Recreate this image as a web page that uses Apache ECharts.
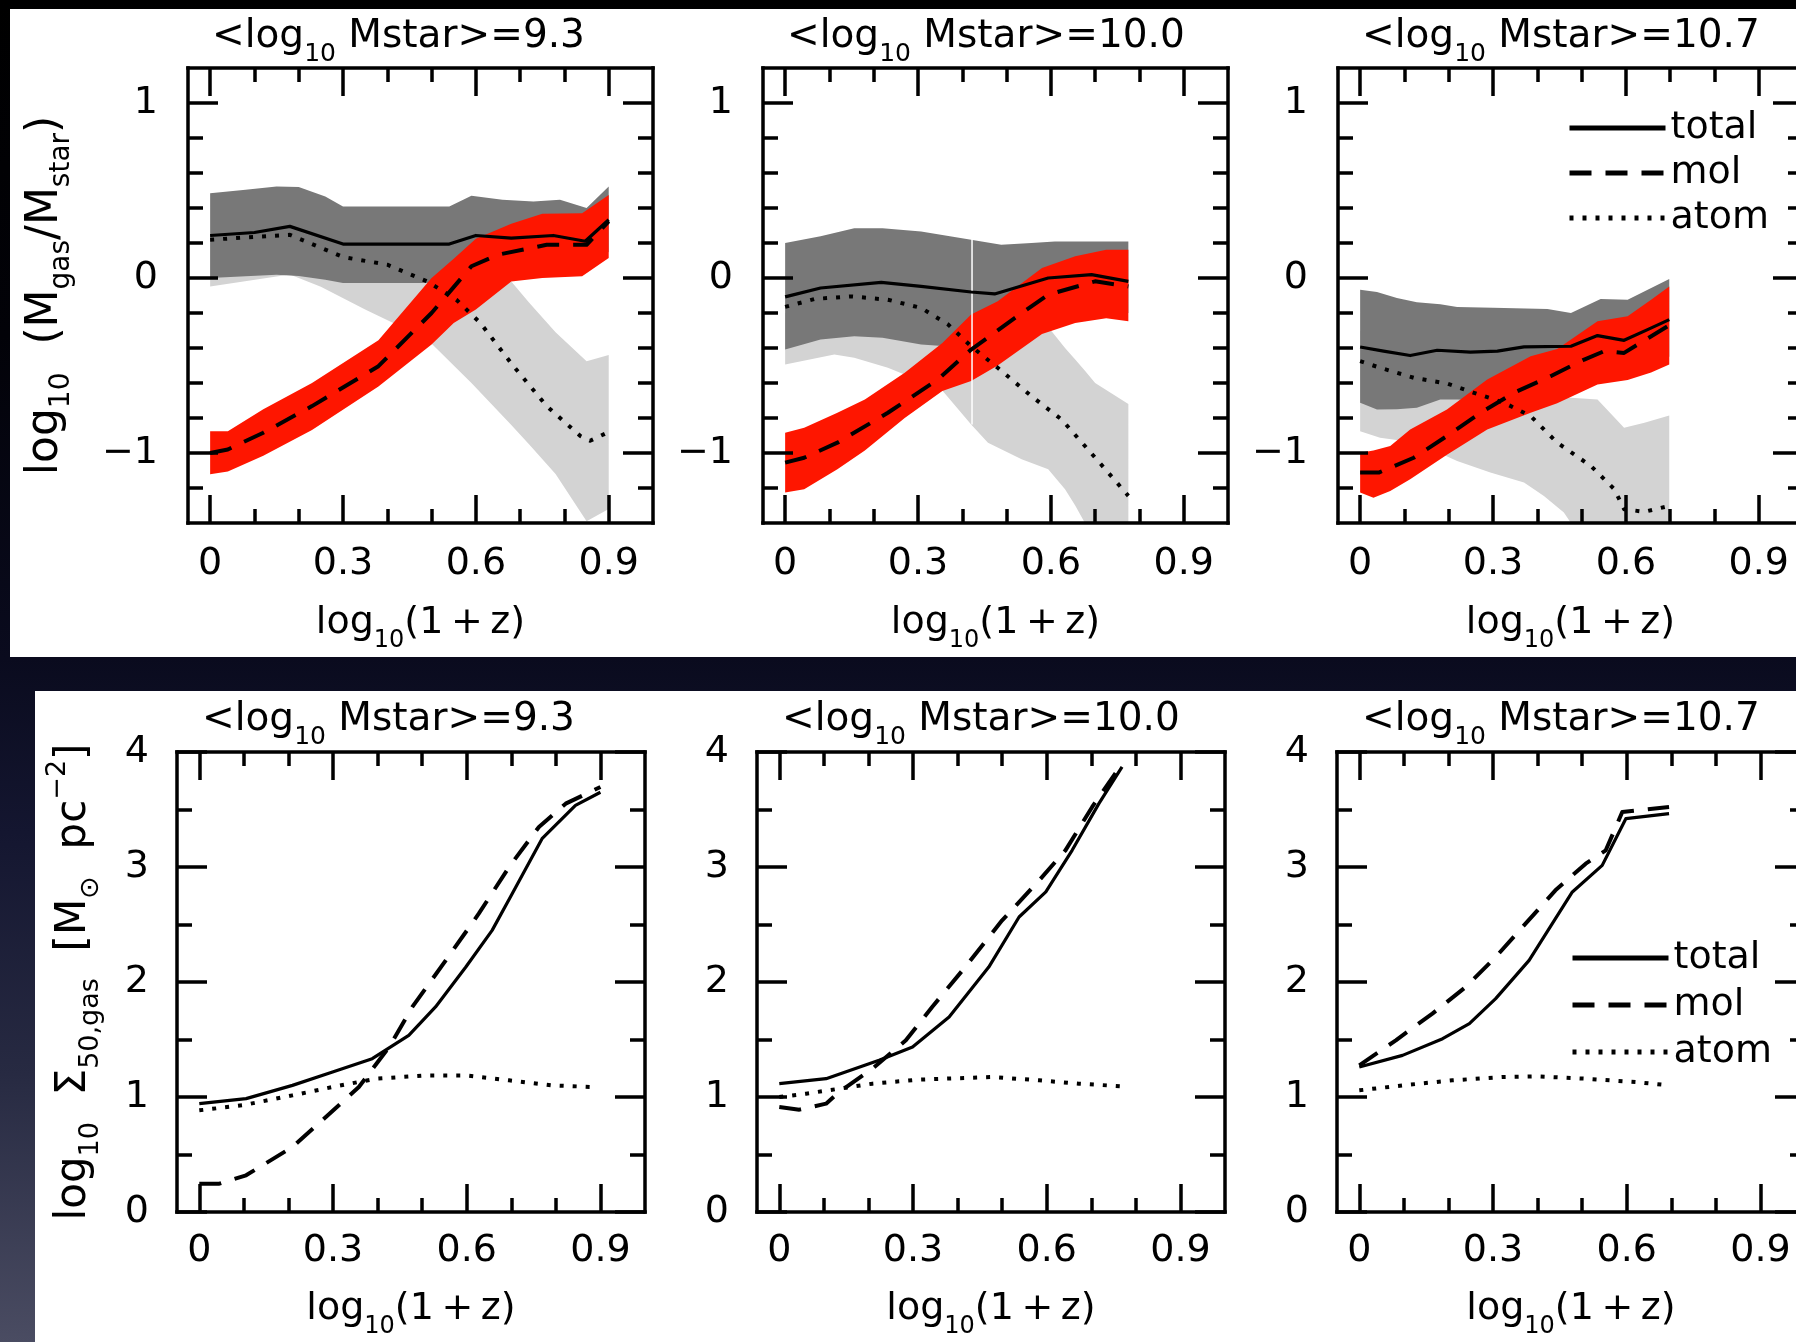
<!DOCTYPE html>
<html>
<head>
<meta charset="utf-8">
<title>Gas fractions and surface densities vs redshift</title>
<script src="https://cdn.jsdelivr.net/npm/echarts@6/dist/echarts.min.js"></script>
<style>
  html, body { margin: 0; padding: 0; }
  body {
    width: 1796px; height: 1342px; overflow: hidden; position: relative;
    background: linear-gradient(to bottom, #000 0%, #020208 25%, #0a0b1e 49%, #141630 62%, #272a42 80%, #4a4c62 100%);
  }
  .sheet { position: absolute; background: #fff; }
  #sheetTop { left: 10px; top: 9px; width: 1786px; height: 648px; }
  #sheetBottom { left: 35px; top: 691px; width: 1761px; height: 651px; }
  #chart { position: absolute; left: 0; top: 0; width: 1796px; height: 1342px; }
</style>
</head>
<body>
<div class="sheet" id="sheetTop"></div>
<div class="sheet" id="sheetBottom"></div>
<div id="chart"></div>
<script>
// ---- axes ----
const zTicks = [0, 0.3, 0.6, 0.9];
const zMinorTicks = [0.1, 0.2, 0.4, 0.5, 0.7, 0.8];
const fracTicks = [-1, 0, 1];
const fracMinorTicks = [-1.2, -0.8, -0.6, -0.4, -0.2, 0.2, 0.4, 0.6, 0.8];
const sigmaTicks = [0, 1, 2, 3, 4];
const sigmaMinorTicks = [0.5, 1.5, 2.5, 3.5];
const massBins = ['9.3', '10.0', '10.7'];
const legendNames = ['total', 'mol', 'atom'];

// ---- log10(Mgas/Mstar) medians, one list per stellar-mass bin: [log10(1+z), value] ----
const fracTotal = [
  [[0,0.243],[0.1,0.26],[0.18,0.295],[0.3,0.194],[0.54,0.194],[0.6,0.243],[0.68,0.228],[0.775,0.243],[0.847,0.21],[0.9,0.333]],
  [[0,-0.108],[0.08,-0.057],[0.217,-0.025],[0.307,-0.048],[0.42,-0.08],[0.473,-0.091],[0.594,0.0],[0.692,0.019],[0.775,-0.019]],
  [[0,-0.394],[0.053,-0.418],[0.113,-0.443],[0.174,-0.413],[0.249,-0.424],[0.31,-0.418],[0.37,-0.394],[0.476,-0.39],[0.536,-0.329],[0.596,-0.356],[0.649,-0.295],[0.698,-0.238]]
];
const fracMol = [
  [[0,-1.0],[0.04,-0.98],[0.12,-0.884],[0.23,-0.732],[0.38,-0.504],[0.5,-0.2],[0.59,0.067],[0.65,0.133],[0.76,0.19],[0.85,0.19],[0.9,0.323]],
  [[0,-1.055],[0.043,-1.027],[0.118,-0.941],[0.232,-0.77],[0.345,-0.58],[0.42,-0.409],[0.519,-0.228],[0.594,-0.095],[0.7,-0.019],[0.775,-0.048]],
  [[0,-1.112],[0.042,-1.112],[0.121,-1.027],[0.196,-0.903],[0.272,-0.77],[0.347,-0.656],[0.43,-0.561],[0.506,-0.466],[0.551,-0.418],[0.596,-0.428],[0.698,-0.27]]
];
const fracAtom = [
  [[0,0.219],[0.18,0.247],[0.3,0.12],[0.4,0.076],[0.49,-0.019],[0.556,-0.124],[0.61,-0.257],[0.685,-0.504],[0.76,-0.732],[0.836,-0.903],[0.858,-0.93],[0.9,-0.88]],
  [[0,-0.165],[0.066,-0.12],[0.149,-0.105],[0.232,-0.124],[0.307,-0.171],[0.368,-0.266],[0.42,-0.39],[0.48,-0.513],[0.556,-0.675],[0.624,-0.808],[0.67,-0.94],[0.723,-1.093],[0.775,-1.245]],
  [[0,-0.475],[0.045,-0.513],[0.121,-0.57],[0.196,-0.603],[0.257,-0.656],[0.325,-0.713],[0.385,-0.789],[0.445,-0.941],[0.521,-1.074],[0.574,-1.207],[0.596,-1.321],[0.642,-1.336],[0.698,-1.302]]
];

// ---- scatter ranges: [log10(1+z), lower, upper] ----
const fracTotalRange = [
  [[0,0.0,0.485],[0.08,0.01,0.504],[0.15,0.019,0.523],[0.2,0.012,0.52],[0.26,-0.01,0.466],[0.3,-0.029,0.409],[0.54,-0.029,0.409],[0.59,-0.03,0.47],[0.66,-0.01,0.447],[0.73,0.0,0.437],[0.79,0.02,0.447],[0.85,0.03,0.4],[0.9,0.15,0.523]],
  [[0,-0.409,0.2],[0.08,-0.352,0.238],[0.156,-0.333,0.285],[0.22,-0.342,0.285],[0.307,-0.38,0.266],[0.42,-0.4,0.219],[0.488,-0.4,0.19],[0.556,-0.33,0.2],[0.609,-0.26,0.209],[0.7,-0.2,0.209],[0.775,-0.2,0.209]],
  [[0,-0.713,-0.067],[0.038,-0.751,-0.08],[0.083,-0.75,-0.114],[0.128,-0.741,-0.139],[0.181,-0.694,-0.15],[0.219,-0.694,-0.165],[0.3,-0.7,-0.17],[0.423,-0.68,-0.177],[0.476,-0.62,-0.2],[0.543,-0.58,-0.12],[0.604,-0.55,-0.124],[0.698,-0.45,-0.006]]
];
const fracMolRange = [
  [[0,-1.122,-0.875],[0.04,-1.105,-0.875],[0.12,-1.015,-0.75],[0.23,-0.868,-0.6],[0.38,-0.62,-0.355],[0.5,-0.38,0.0],[0.55,-0.257,0.11],[0.6,-0.18,0.225],[0.68,-0.02,0.31],[0.75,0.0,0.367],[0.84,0.01,0.37],[0.9,0.114,0.475]],
  [[0,-1.226,-0.884],[0.043,-1.207,-0.856],[0.118,-1.093,-0.77],[0.18,-0.985,-0.694],[0.27,-0.8,-0.542],[0.355,-0.645,-0.371],[0.42,-0.589,-0.209],[0.48,-0.5,-0.133],[0.58,-0.32,0.057],[0.655,-0.257,0.124],[0.725,-0.23,0.162],[0.775,-0.247,0.162]],
  [[0,-1.226,-0.998],[0.03,-1.255,-0.985],[0.068,-1.217,-0.96],[0.113,-1.15,-0.865],[0.196,-1.01,-0.751],[0.287,-0.865,-0.58],[0.385,-0.77,-0.447],[0.445,-0.715,-0.405],[0.536,-0.608,-0.247],[0.604,-0.583,-0.219],[0.657,-0.54,-0.124],[0.698,-0.494,-0.048]]
];
const fracAtomRange = [
  [[0,-0.048,0.2],[0.18,0.02,0.25],[0.25,-0.05,0.2],[0.35,-0.18,0.1],[0.49,-0.35,0.0],[0.59,-0.6,-0.02],[0.68,-0.84,-0.02],[0.72,-0.95,-0.14],[0.78,-1.12,-0.31],[0.85,-1.39,-0.475],[0.9,-1.32,-0.44]],
  [[0,-0.494,-0.2],[0.111,-0.437,-0.2],[0.156,-0.456,-0.2],[0.232,-0.513,-0.25],[0.353,-0.637,-0.3],[0.42,-0.837,-0.3],[0.458,-0.941,-0.3],[0.534,-1.036,-0.3],[0.594,-1.093,-0.28],[0.632,-1.207,-0.4],[0.655,-1.3,-0.466],[0.677,-1.4,-0.53],[0.7,-1.4,-0.6],[0.775,-1.4,-0.72]],
  [[0,-0.875,-0.3],[0.045,-0.913,-0.35],[0.128,-0.941,-0.4],[0.219,-1.046,-0.5],[0.294,-1.112,-0.55],[0.37,-1.169,-0.6],[0.415,-1.245,-0.65],[0.46,-1.34,-0.68],[0.476,-1.4,-0.684],[0.536,-1.4,-0.694],[0.596,-1.4,-0.856],[0.642,-1.4,-0.827],[0.698,-1.4,-0.785]]
];
// thin white divider through the shaded ranges of the middle bin
const fracDivider = [[0.422, 0.228], [0.422, -0.837]];

// ---- log10 Sigma_50,gas medians ----
const sigmaTotal = [
  [[0,0.942],[0.105,0.986],[0.209,1.101],[0.299,1.217],[0.388,1.333],[0.47,1.536],[0.53,1.783],[0.598,2.13],[0.657,2.449],[0.702,2.768],[0.769,3.246],[0.844,3.536],[0.9,3.65]],
  [[0,1.116],[0.105,1.159],[0.224,1.319],[0.299,1.435],[0.381,1.696],[0.47,2.13],[0.538,2.565],[0.598,2.783],[0.657,3.145],[0.717,3.551],[0.769,3.87]],
  [[0,1.261],[0.097,1.362],[0.187,1.507],[0.247,1.638],[0.306,1.855],[0.381,2.188],[0.433,2.507],[0.478,2.783],[0.545,3.014],[0.598,3.42],[0.695,3.464]]
];
const sigmaMol = [
  [[0,0.246],[0.045,0.246],[0.105,0.319],[0.209,0.565],[0.284,0.826],[0.358,1.087],[0.426,1.435],[0.478,1.783],[0.553,2.188],[0.627,2.594],[0.695,3.0],[0.762,3.348],[0.822,3.551],[0.9,3.696]],
  [[0,0.913],[0.045,0.89],[0.105,0.942],[0.134,1.043],[0.209,1.246],[0.284,1.493],[0.343,1.783],[0.411,2.101],[0.5,2.536],[0.583,2.884],[0.642,3.145],[0.702,3.522],[0.769,3.899]],
  [[0,1.275],[0.082,1.493],[0.164,1.725],[0.239,1.957],[0.306,2.217],[0.373,2.507],[0.44,2.797],[0.508,3.029],[0.553,3.145],[0.59,3.478],[0.695,3.522]]
];
const sigmaAtom = [
  [[0,0.884],[0.097,0.928],[0.209,1.014],[0.299,1.087],[0.396,1.159],[0.508,1.188],[0.598,1.188],[0.695,1.145],[0.792,1.101],[0.881,1.087]],
  [[0,1.0],[0.06,1.029],[0.134,1.072],[0.209,1.116],[0.314,1.151],[0.433,1.168],[0.478,1.174],[0.583,1.145],[0.672,1.116],[0.769,1.093]],
  [[0,1.058],[0.097,1.101],[0.209,1.145],[0.321,1.174],[0.396,1.18],[0.508,1.159],[0.62,1.13],[0.695,1.101]]
];

// ---- styling ----
const FONT = 'DejaVu Sans';
const INK = '#000';
const FILL_TOTAL = '#787878';
const FILL_ATOM = '#d3d3d3';
const FILL_MOL = '#fe1600';
const LINE = {
  total: { type: 'solid', width: 3.2 },
  mol:   { type: [22, 14], width: 4 },
  atom:  { type: [4, 9], width: 4 }
};
// rich text: t = body, s = subscript, p = superscript
function richSet(size, subSize) {
  const base = { fontFamily: FONT, fontWeight: 'normal', color: INK };
  return {
    t: Object.assign({ fontSize: size, lineHeight: 60 }, base),
    s: Object.assign({ fontSize: subSize, lineHeight: 22, verticalAlign: 'bottom' }, base),
    p: Object.assign({ fontSize: subSize, lineHeight: 32, verticalAlign: 'top' }, base)
  };
}
const RICH_X = richSet(38, 24);
const RICH_FRAC = richSet(44, 28);
const RICH_SIGMA = richSet(42, 27);
const RICH_TITLE = richSet(39, 25);

const X_NAME = '{t|log}{s|10}{t|(1\u2009+\u2009z)}';
const FRAC_NAME = '{t|log}{s|10}{t|  (M}{s|gas}{t|/M}{s|star}{t|)}';
const SIGMA_NAME = '{t|log}{s|10}{t|  \u03a3}{s|50,gas}{t|  [M}{s|\u2299}{t|  pc}{p|\u22122}{t|]}';

const fmtZ = v => (v === 0 ? '0' : v.toFixed(1));
const fmtSigned = v => (v < 0 ? '\u2212' + Math.abs(v) : String(v));

// panel frames in pixels
const topRow = [0, 1, 2].map(i => ({ left: 188 + 575 * i, top: 68, width: 465, height: 455 }));
const bottomRow = [0, 1, 2].map(i => ({ left: 177 + 580 * i, top: 752, width: 468, height: 460 }));
const grids = topRow.concat(bottomRow).map(r => Object.assign({ show: false, outerBoundsMode: 'none', containLabel: false }, r));

const xAxes = [];
const yAxes = [];
const TICK = { color: INK, width: 3.5 };
const FRAME = { show: true, onZero: false, lineStyle: { color: INK, width: 3.5, cap: 'square' } };
const BARE = { show: false, onZero: false };

function addFrame(g, yMin, yMax, yMajor, yMinor, yName, yRich, o) {
  const xb = { gridIndex: g, type: 'value', min: -0.05, max: 1.0, z: 10, splitLine: { show: false }, axisPointer: { show: false } };
  const yb = { gridIndex: g, type: 'value', min: yMin, max: yMax, z: 10, splitLine: { show: false }, axisPointer: { show: false } };
  const xMaj = { show: true, inside: true, length: 28, customValues: zTicks, lineStyle: TICK };
  const xMin = { show: true, inside: true, length: 14, customValues: zMinorTicks, lineStyle: TICK };
  const yMaj = { show: true, inside: true, length: 30, customValues: yMajor, lineStyle: TICK };
  const yMinT = { show: true, inside: true, length: 15, customValues: yMinor, lineStyle: TICK };
  const label = { fontSize: 38, color: INK, fontFamily: FONT };

  xAxes.push(Object.assign({}, xb, {
    position: 'bottom', axisLine: FRAME, axisTick: xMaj,
    axisLabel: Object.assign({ customValues: zTicks, margin: o.xLabelMargin, formatter: fmtZ }, label),
    name: X_NAME, nameLocation: 'middle', nameGap: o.xNameGap, nameTextStyle: { rich: RICH_X }
  }));
  xAxes.push(Object.assign({}, xb, { position: 'bottom', axisLine: BARE, axisTick: xMin, axisLabel: { show: false } }));
  xAxes.push(Object.assign({}, xb, { position: 'top', axisLine: FRAME, axisTick: xMaj, axisLabel: { show: false } }));
  xAxes.push(Object.assign({}, xb, { position: 'top', axisLine: BARE, axisTick: xMin, axisLabel: { show: false } }));

  yAxes.push(Object.assign({}, yb, {
    position: 'left', axisLine: FRAME, axisTick: yMaj,
    axisLabel: Object.assign({ customValues: yMajor, margin: o.yLabelMargin, formatter: fmtSigned }, label),
    name: yName, nameLocation: 'middle', nameGap: o.yNameGap, nameTextStyle: { rich: yRich }
  }));
  yAxes.push(Object.assign({}, yb, { position: 'left', axisLine: BARE, axisTick: yMinT, axisLabel: { show: false } }));
  yAxes.push(Object.assign({}, yb, { position: 'right', axisLine: FRAME, axisTick: yMaj, axisLabel: { show: false } }));
  yAxes.push(Object.assign({}, yb, { position: 'right', axisLine: BARE, axisTick: yMinT, axisLabel: { show: false } }));
}

for (let i = 0; i < 3; i++) {
  addFrame(i, -1.4, 1.2, fracTicks, fracMinorTicks, i === 0 ? FRAC_NAME : '', RICH_FRAC,
    { xLabelMargin: 22, xNameGap: 70, yLabelMargin: 30, yNameGap: 112 });
}
for (let i = 0; i < 3; i++) {
  addFrame(3 + i, 0, 4, sigmaTicks, sigmaMinorTicks, i === 0 ? SIGMA_NAME : '', RICH_SIGMA,
    { xLabelMargin: 20, xNameGap: 67, yLabelMargin: 28, yNameGap: 73 });
}

// ---- series ----
const series = [];
// shaded range between the lower and upper percentile edges, as one polygon
function addRange(g, rows, color) {
  series.push({
    type: 'custom', name: 'range', xAxisIndex: 4 * g, yAxisIndex: 4 * g,
    data: rows, encode: { x: 0, y: [1, 2] },
    clip: true, silent: true, z: 1, animation: false,
    renderItem: function (params, api) {
      if (params.dataIndex !== 0) return null;
      const upper = rows.map(r => api.coord([r[0], r[2]]));
      const lower = rows.map(r => api.coord([r[0], r[1]])).reverse();
      return {
        type: 'polygon',
        shape: { points: upper.concat(lower) },
        style: { fill: color, stroke: null }
      };
    }
  });
}
function addCurve(g, name, pts) {
  series.push({
    type: 'line', name: name, xAxisIndex: 4 * g, yAxisIndex: 4 * g, data: pts,
    symbol: 'none', z: 4, silent: true, animation: false,
    itemStyle: { color: INK },
    lineStyle: Object.assign({ color: INK, cap: 'butt', join: 'round' }, LINE[name])
  });
}

for (let i = 0; i < 3; i++) {
  addRange(i, fracAtomRange[i], FILL_ATOM);
  addRange(i, fracTotalRange[i], FILL_TOTAL);
  addRange(i, fracMolRange[i], FILL_MOL);
  if (i === 1) {
    series.push({
      type: 'line', name: 'divider', xAxisIndex: 4, yAxisIndex: 4, data: fracDivider,
      symbol: 'none', z: 3, silent: true, animation: false, lineStyle: { color: '#fff', width: 1.5 }
    });
  }
  addCurve(i, 'total', fracTotal[i]);
  addCurve(i, 'mol', fracMol[i]);
  addCurve(i, 'atom', fracAtom[i]);
}
for (let i = 0; i < 3; i++) {
  addCurve(3 + i, 'total', sigmaTotal[i]);
  addCurve(3 + i, 'mol', sigmaMol[i]);
  addCurve(3 + i, 'atom', sigmaAtom[i]);
}

// ---- panel titles ----
const titles = [];
massBins.forEach((m, i) => {
  const text = '{t|<log}{s|10}{t| Mstar>=' + m + '}';
  titles.push({ text: text, left: topRow[i].left + 24, top: 7, padding: 0, textStyle: { fontWeight: 'normal', rich: RICH_TITLE } });
  titles.push({ text: text, left: bottomRow[i].left + 25, top: 690, padding: 0, textStyle: { fontWeight: 'normal', rich: RICH_TITLE } });
});

const legendBase = {
  data: legendNames, orient: 'vertical', itemWidth: 96, itemHeight: 4, padding: 0,
  selectedMode: false, lineStyle: { width: 5 }, itemStyle: { opacity: 0 },
  textStyle: { fontSize: 38, lineHeight: 40, color: INK, fontFamily: FONT }
};

const chart = echarts.init(document.getElementById('chart'), null, { renderer: 'canvas' });
chart.setOption({
  backgroundColor: 'transparent',
  animation: false,
  textStyle: { fontFamily: FONT },
  title: titles,
  legend: [
    Object.assign({}, legendBase, { left: 1567, top: 108, itemGap: 5 }),
    Object.assign({}, legendBase, { left: 1570, top: 938, itemGap: 7 })
  ],
  grid: grids,
  xAxis: xAxes,
  yAxis: yAxes,
  series: series
});
</script>
</body>
</html>
